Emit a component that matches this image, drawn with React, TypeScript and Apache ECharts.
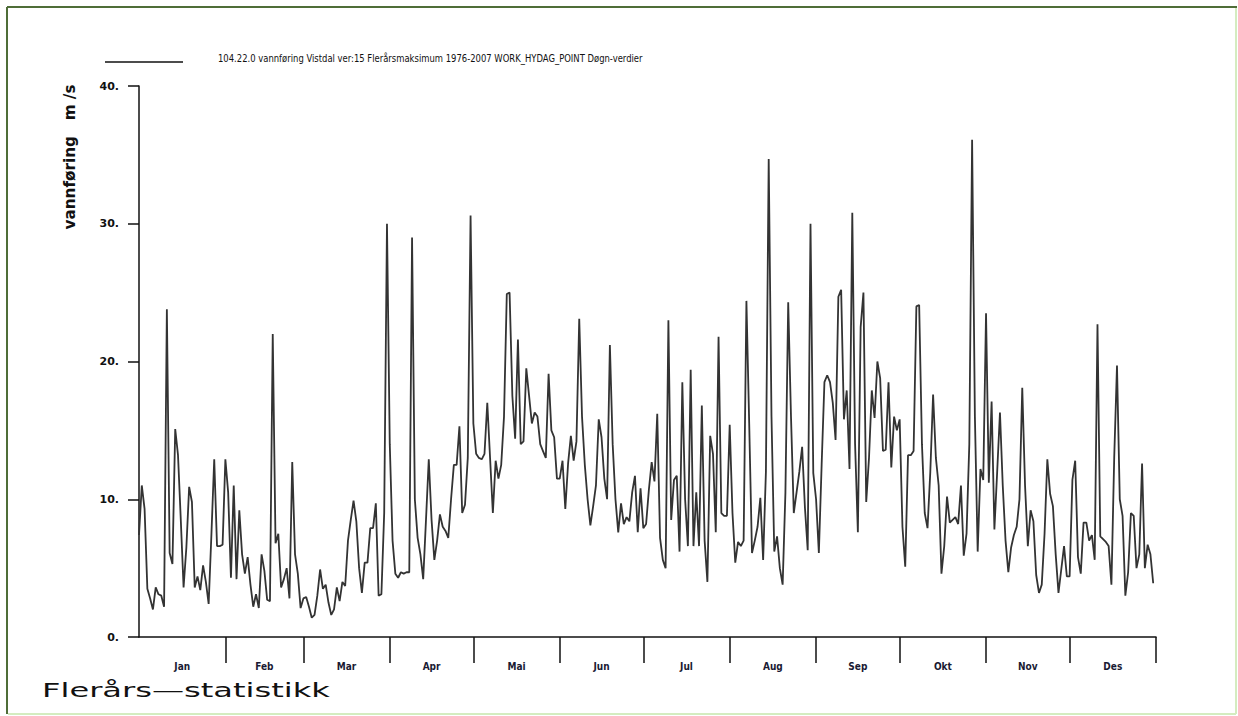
import React, { useEffect, useRef } from "react";
import * as echarts from "echarts";

const titleText =
  "104.22.0 vannføring Vistdal ver:15 Flerårsmaksimum 1976-2007 WORK_HYDAG_POINT Døgn-verdier";
const yAxisTitle = "vannføring   m /s";
const footerText = "Flerårs—statistikk";

const monthNames = ["Jan", "Feb", "Mar", "Apr", "Mai", "Jun", "Jul", "Aug", "Sep", "Okt", "Nov", "Des"];
const monthDays = [31, 28, 31, 30, 31, 30, 31, 31, 30, 31, 30, 31];
const yTickValues = [0, 10, 20, 30, 40];

const jan = [7.4, 11, 9.3, 3.5, 2.8, 2.0, 3.6, 3.1, 3.0, 2.2, 23.8, 6.1, 5.3, 15.1, 13.2, 8.5, 3.6, 6.5, 10.9, 9.8, 3.6, 4.4, 3.4, 5.2, 4.0, 2.4, 7.5, 12.9, 6.6, 6.6, 6.7];
const feb = [12.9, 10.5, 4.3, 11, 4.2, 9.2, 6.0, 4.6, 5.8, 3.8, 2.2, 3.1, 2.1, 6.0, 4.8, 2.7, 2.6, 22, 6.8, 7.5, 3.6, 4.2, 5.0, 2.8, 12.7, 6.0, 4.6, 2.1];
const mar = [2.8, 2.9, 2.2, 1.4, 1.6, 3.0, 4.9, 3.5, 3.8, 2.5, 1.6, 2.0, 3.6, 2.6, 4.0, 3.7, 7.0, 8.5, 9.9, 8.4, 5.0, 3.2, 5.4, 5.4, 7.9, 7.9, 9.7, 3.0, 3.1, 9.0, 30];
const apr = [14, 7, 4.6, 4.3, 4.7, 4.6, 4.7, 4.7, 29, 10, 7.2, 6.0, 4.2, 8.5, 12.9, 8.5, 5.6, 7.0, 8.9, 8.0, 7.7, 7.2, 10, 12.5, 12.5, 15.3, 9.0, 9.6, 13, 30.6];
const mai = [15.5, 13.3, 13.0, 12.9, 13.3, 17, 13, 9, 12.8, 11.5, 12.5, 16, 24.9, 25, 17.5, 14.4, 21.6, 14, 14.2, 19.5, 17.5, 15.5, 16.3, 16, 14, 13.5, 13, 19.1, 15, 14.5, 11.5];
const jun = [11.5, 12.8, 9.3, 12.6, 14.6, 12.8, 14.2, 23.1, 16, 12.5, 10, 8.1, 9.5, 11, 15.8, 14.5, 11.5, 10, 21.2, 14, 10, 7.6, 9.7, 8.2, 8.7, 8.4, 10.5, 11.7, 7.6, 10.8];
const jul = [7.9, 8.2, 10.7, 12.7, 11.3, 16.2, 7.2, 5.6, 5.0, 23, 8.5, 11.4, 11.7, 6.2, 18.5, 10, 6.6, 19.4, 6.6, 10.5, 6.6, 16.8, 7.0, 4.0, 14.6, 13.3, 7.6, 21.8, 9, 8.8, 8.8];
const aug = [15.4, 9, 5.4, 6.9, 6.6, 7.0, 24.4, 15.5, 6.1, 7.0, 8.0, 10.1, 5.6, 12, 34.7, 16, 6.2, 7.3, 5.0, 3.8, 10.5, 24.3, 16, 9.0, 10.5, 12, 13.8, 9.4, 6.3, 30, 11.9];
const sep = [10, 6.1, 12.5, 18.5, 19, 18.5, 17, 14.3, 24.7, 25.2, 15.8, 17.9, 12.2, 30.8, 14, 7.6, 22.5, 25, 9.8, 13, 17.9, 15.9, 20, 18.8, 13.5, 13.6, 18.5, 12.3, 16, 15];
const okt = [15.8, 8, 5.1, 13.2, 13.2, 13.5, 24, 24.1, 14, 9, 7.9, 12, 17.6, 13, 11, 4.6, 6.6, 10.2, 8.3, 8.5, 8.7, 8.2, 11, 5.9, 7.5, 14, 36.1, 16, 6.2, 12.2, 11.4];
const nov = [23.5, 11.2, 17.1, 7.8, 12, 16.3, 11, 7, 4.7, 6.5, 7.4, 8, 10, 18.1, 11, 6.6, 9.2, 8.4, 4.5, 3.2, 3.8, 7.5, 12.9, 10.4, 9.5, 6.0, 3.2, 4.9, 6.6, 4.4];
const des = [4.4, 11.4, 12.8, 5.8, 4.6, 8.3, 8.3, 7, 7.4, 5.6, 22.7, 7.3, 7.1, 6.9, 6.6, 3.8, 13, 19.7, 10, 8.8, 3.0, 4.7, 9.0, 8.8, 5.0, 6.0, 12.6, 5.0, 6.7, 6.0, 3.9];

const monthValues = [jan, feb, mar, apr, mai, jun, jul, aug, sep, okt, nov, des];

function measure(text: string, font: string): number {
  const c = document.createElement("canvas");
  const ctx = c.getContext("2d");
  if (!ctx) return text.length * 6;
  ctx.font = font;
  return ctx.measureText(text).width;
}

export default function App() {
  const ref = useRef<HTMLDivElement>(null);

  useEffect(() => {
    if (!ref.current) return;
    const chart = echarts.init(ref.current, undefined, { renderer: "svg" });

    const daily: number[] = ([] as number[]).concat(...monthValues);
    const data = daily.map((v, i) => [i, v]);

    const starts: number[] = [];
    let acc = 0;
    monthDays.forEach((d) => {
      starts.push(acc);
      acc += d;
    });
    const tickVals = monthDays.map((d, i) => starts[i] + d);
    const labelVals = monthDays.map((d, i) => starts[i] + d / 2);

    const titleFont = "10px 'Liberation Sans Narrow', 'DejaVu Sans Condensed', 'Liberation Sans', sans-serif";
    const titleScale = 425 / measure(titleText, titleFont);
    const footFont = "19px 'DejaVu Sans', sans-serif";
    const footScale = 288 / measure(footerText, footFont);
    const yTitleFont = "bold 15px 'DejaVu Sans Condensed', 'DejaVu Sans', sans-serif";
    const yTitleScale = 145 / measure(yAxisTitle, yTitleFont);

    chart.setOption({
      animation: false,
      backgroundColor: "#ffffff",
      grid: { left: 139, top: 86, right: 82, bottom: 79, containLabel: false },
      xAxis: {
        type: "value",
        min: 0,
        max: 365,
        axisLine: { show: true, lineStyle: { color: "#111", width: 1.5 } },
        axisTick: {
          show: true,
          customValues: tickVals,
          length: 26,
          lineStyle: { color: "#111", width: 1.5 },
        },
        axisLabel: {
          show: true,
          customValues: labelVals,
          margin: 24,
          fontSize: 10,
          fontWeight: "bold",
          fontFamily: "'Liberation Sans Narrow', 'DejaVu Sans Condensed', sans-serif",
          color: "#1a1a33",
          formatter: (v: number) => {
            const idx = labelVals.findIndex((x) => Math.abs(x - v) < 0.01);
            return idx >= 0 ? monthNames[idx] : "";
          },
        },
        splitLine: { show: false },
      },
      yAxis: {
        type: "value",
        min: 0,
        max: 40,
        interval: 10,
        axisLine: { show: true, lineStyle: { color: "#111", width: 1.5 } },
        axisTick: { show: true, length: 11, lineStyle: { color: "#111", width: 1.5 } },
        axisLabel: {
          margin: 20,
          fontSize: 11,
          fontWeight: "bold",
          fontFamily: "'DejaVu Sans', sans-serif",
          color: "#111",
          formatter: (v: number) => (yTickValues.includes(v) ? `${v}.` : ""),
        },
        splitLine: { show: false },
      },
      series: [
        {
          type: "line",
          data,
          showSymbol: false,
          symbol: "none",
          lineStyle: { color: "#333333", width: 1.8 },
          z: 3,
        },
      ],
      graphic: [
        {
          type: "line",
          shape: { x1: 7, y1: 7, x2: 1237, y2: 7 },
          style: { stroke: "#4f6d38", lineWidth: 2 },
          silent: true,
        },
        {
          type: "line",
          shape: { x1: 7, y1: 7, x2: 7, y2: 714 },
          style: { stroke: "#4f6d38", lineWidth: 2 },
          silent: true,
        },
        {
          type: "line",
          shape: { x1: 1236, y1: 8, x2: 1236, y2: 714 },
          style: { stroke: "#d4ecc0", lineWidth: 2 },
          silent: true,
        },
        {
          type: "line",
          shape: { x1: 8, y1: 714, x2: 1236, y2: 714 },
          style: { stroke: "#d4ecc0", lineWidth: 2 },
          silent: true,
        },
        {
          type: "line",
          shape: { x1: 105, y1: 62, x2: 183, y2: 62 },
          style: { stroke: "#111", lineWidth: 1.5 },
          silent: true,
        },
        {
          type: "text",
          x: 218,
          y: 58,
          scaleX: titleScale,
          style: {
            text: titleText,
            font: titleFont,
            fill: "#111",
            verticalAlign: "middle",
            align: "left",
          },
          silent: true,
        },
        {
          type: "text",
          x: 70,
          y: 157,
          rotation: Math.PI / 2,
          scaleX: yTitleScale,
          style: {
            text: yAxisTitle,
            font: yTitleFont,
            fill: "#111",
            verticalAlign: "middle",
            align: "center",
          },
          silent: true,
        },
        {
          type: "text",
          x: 42,
          y: 691,
          scaleX: footScale,
          style: {
            text: footerText,
            font: footFont,
            fill: "#111",
            verticalAlign: "middle",
            align: "left",
          },
          silent: true,
        },
      ],
    });

    return () => {
      chart.dispose();
    };
  }, []);

  return (
    <div
      ref={ref}
      style={{ position: "fixed", left: 0, top: 0, width: 1238, height: 716 }}
    />
  );
}
